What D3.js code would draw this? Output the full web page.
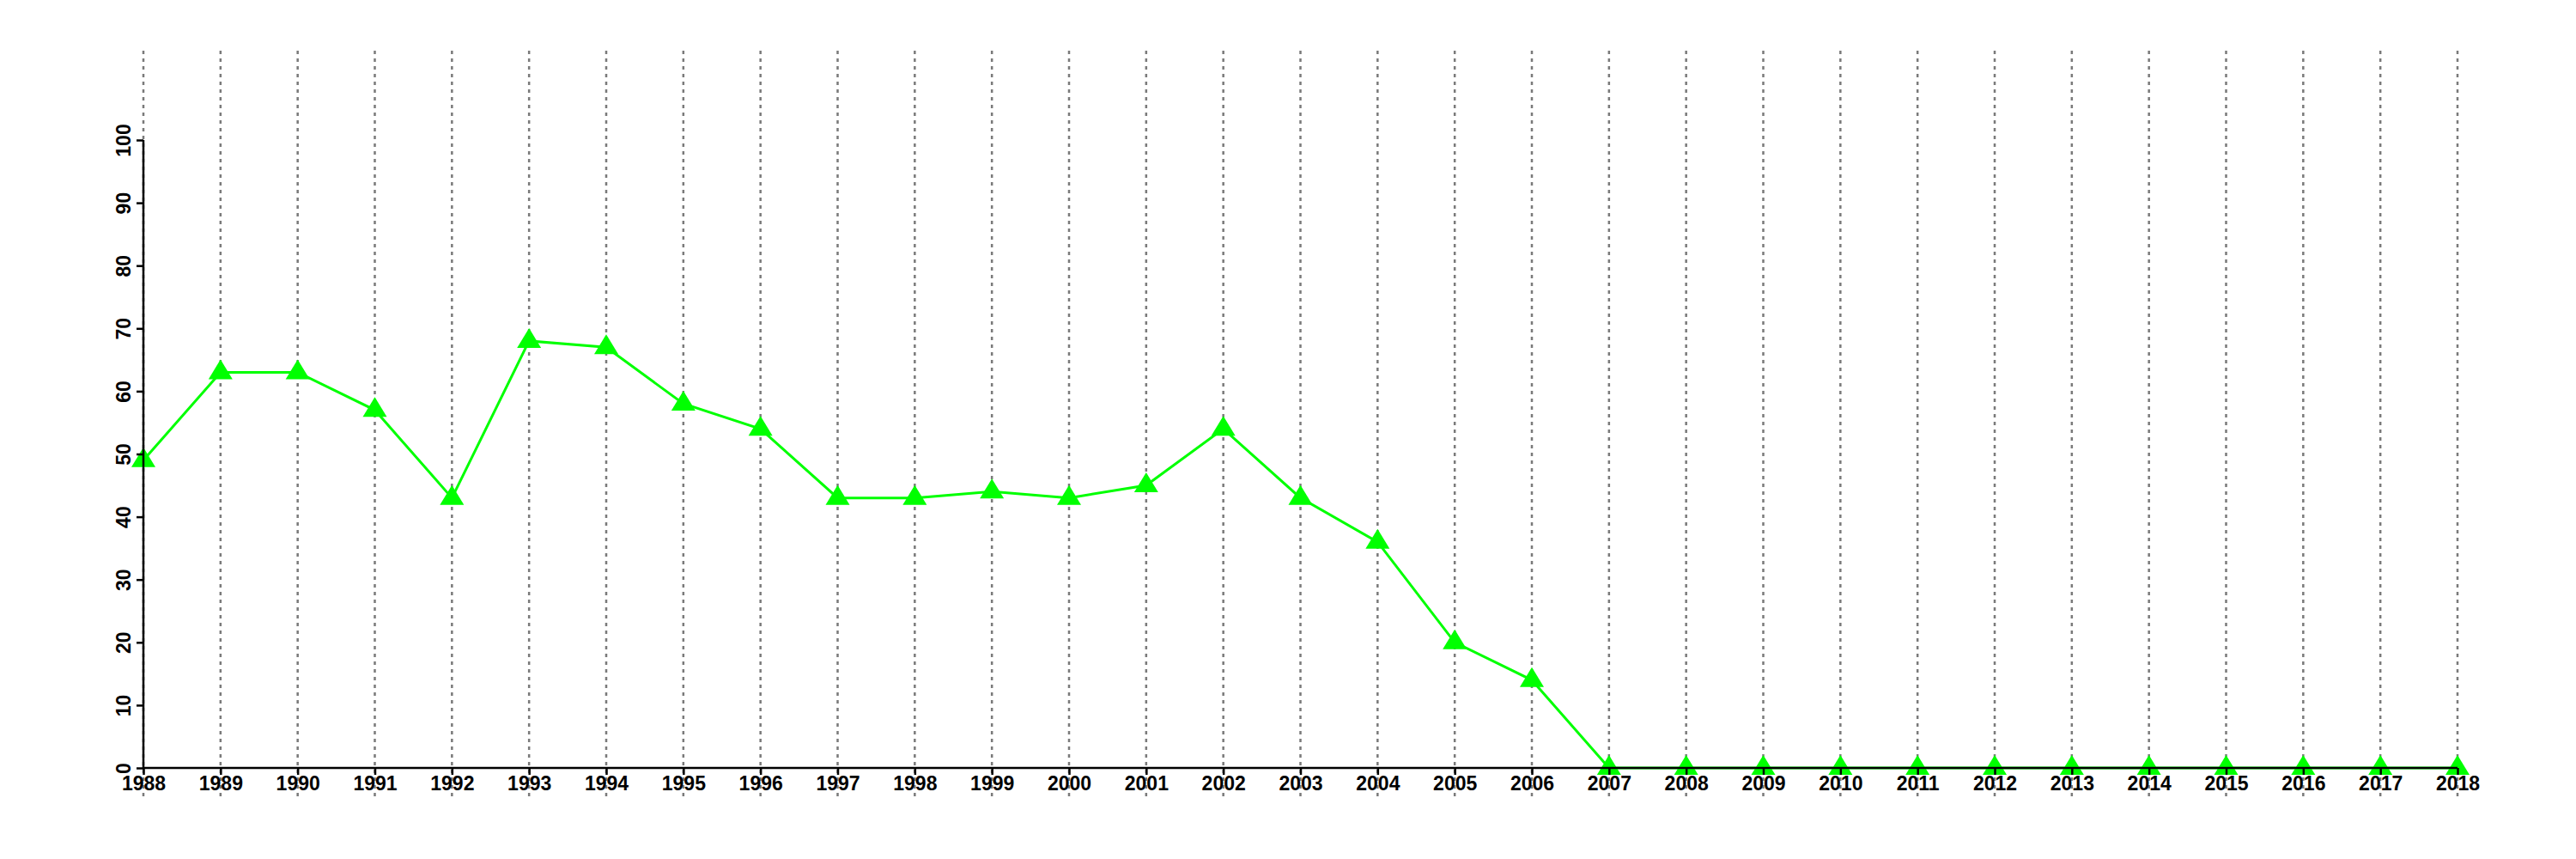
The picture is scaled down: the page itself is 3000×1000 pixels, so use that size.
<!DOCTYPE html>
<html>
<head>
<meta charset="utf-8">
<script src="https://cdn.jsdelivr.net/npm/d3@7"></script>
<style>
  html, body { margin: 0; padding: 0; background: #ffffff; }
  svg { display: block; }
  text { font-family: "Liberation Sans", Arial, Helvetica, sans-serif; font-weight: bold; }
</style>
</head>
<body>
<div id="chart"></div>
<script>
// ---- data ----
const years = [1988, 1989, 1990, 1991, 1992, 1993, 1994, 1995, 1996, 1997,
               1998, 1999, 2000, 2001, 2002, 2003, 2004, 2005, 2006, 2007,
               2008, 2009, 2010, 2011, 2012, 2013, 2014, 2015, 2016, 2017, 2018];
const values = [49, 63, 63, 57, 43, 68, 67, 58, 54, 43,
                43, 44, 43, 45, 54, 43, 36, 20, 14, 0,
                0, 0, 0, 0, 0, 0, 0, 0, 0, 0, 0];
const yTicks = [0, 10, 20, 30, 40, 50, 60, 70, 80, 90, 100];
const xTicks = years;

// ---- layout ----
const W = 3000, H = 1000;
const x = d3.scaleLinear().domain([1988, 2018]).range([167, 2862]);
const y = d3.scaleLinear().domain([0, 100]).range([894, 163]);

const svg = d3.select("#chart").append("svg")
  .attr("width", W).attr("height", H);

// vertical dotted grid lines
svg.append("g").selectAll("line").data(xTicks).join("line")
  .attr("x1", d => x(d)).attr("x2", d => x(d))
  .attr("y1", 59).attr("y2", 927)
  .attr("stroke", "#7a7a7a")
  .attr("stroke-width", 2.5)
  .attr("stroke-dasharray", "4,5");

// line
const line = d3.line().x((d, i) => x(years[i])).y(d => y(d));
svg.append("path").datum(values)
  .attr("d", line)
  .attr("fill", "none")
  .attr("stroke", "#00ff00")
  .attr("stroke-width", 3);

// triangles
svg.append("g").selectAll("path").data(values).join("path")
  .attr("transform", (d, i) => `translate(${x(years[i])},${y(d)})`)
  .attr("d", "M0,-15L14,8L-14,8Z")
  .attr("fill", "#00ff00");

// y axis
const yAxis = d3.axisLeft(y).tickValues(yTicks).tickSize(8).tickPadding(0).tickFormat(d3.format("d"));
const gy = svg.append("g").attr("transform", `translate(${x(1988)},0)`).call(yAxis);
gy.select(".domain").attr("stroke", "#000").attr("stroke-width", 2.5).attr("d", `M0,${y(0)}V${y(100)}`);
gy.selectAll(".tick line").attr("stroke", "#000").attr("stroke-width", 2.5);
gy.selectAll(".tick text")
  .attr("font-size", 23)
  .attr("fill", "#000")
  .attr("text-anchor", "middle")
  .attr("x", null).attr("dy", null)
  .attr("transform", "translate(-15,0) rotate(-90)")
  .attr("y", 0);

// x axis
const xAxis = d3.axisBottom(x).tickValues(xTicks).tickSize(8).tickPadding(0).tickFormat(d3.format("d"));
const gx = svg.append("g").attr("transform", `translate(0,${y(0)})`).call(xAxis);
gx.select(".domain").attr("stroke", "#000").attr("stroke-width", 2.5).attr("d", `M${x(1988)},0H${x(2018)}`);
gx.selectAll(".tick line").attr("stroke", "#000").attr("stroke-width", 2.5);
gx.selectAll(".tick text")
  .attr("font-size", 23)
  .attr("fill", "#000")
  .attr("y", 26).attr("dy", null);
</script>
</body>
</html>
